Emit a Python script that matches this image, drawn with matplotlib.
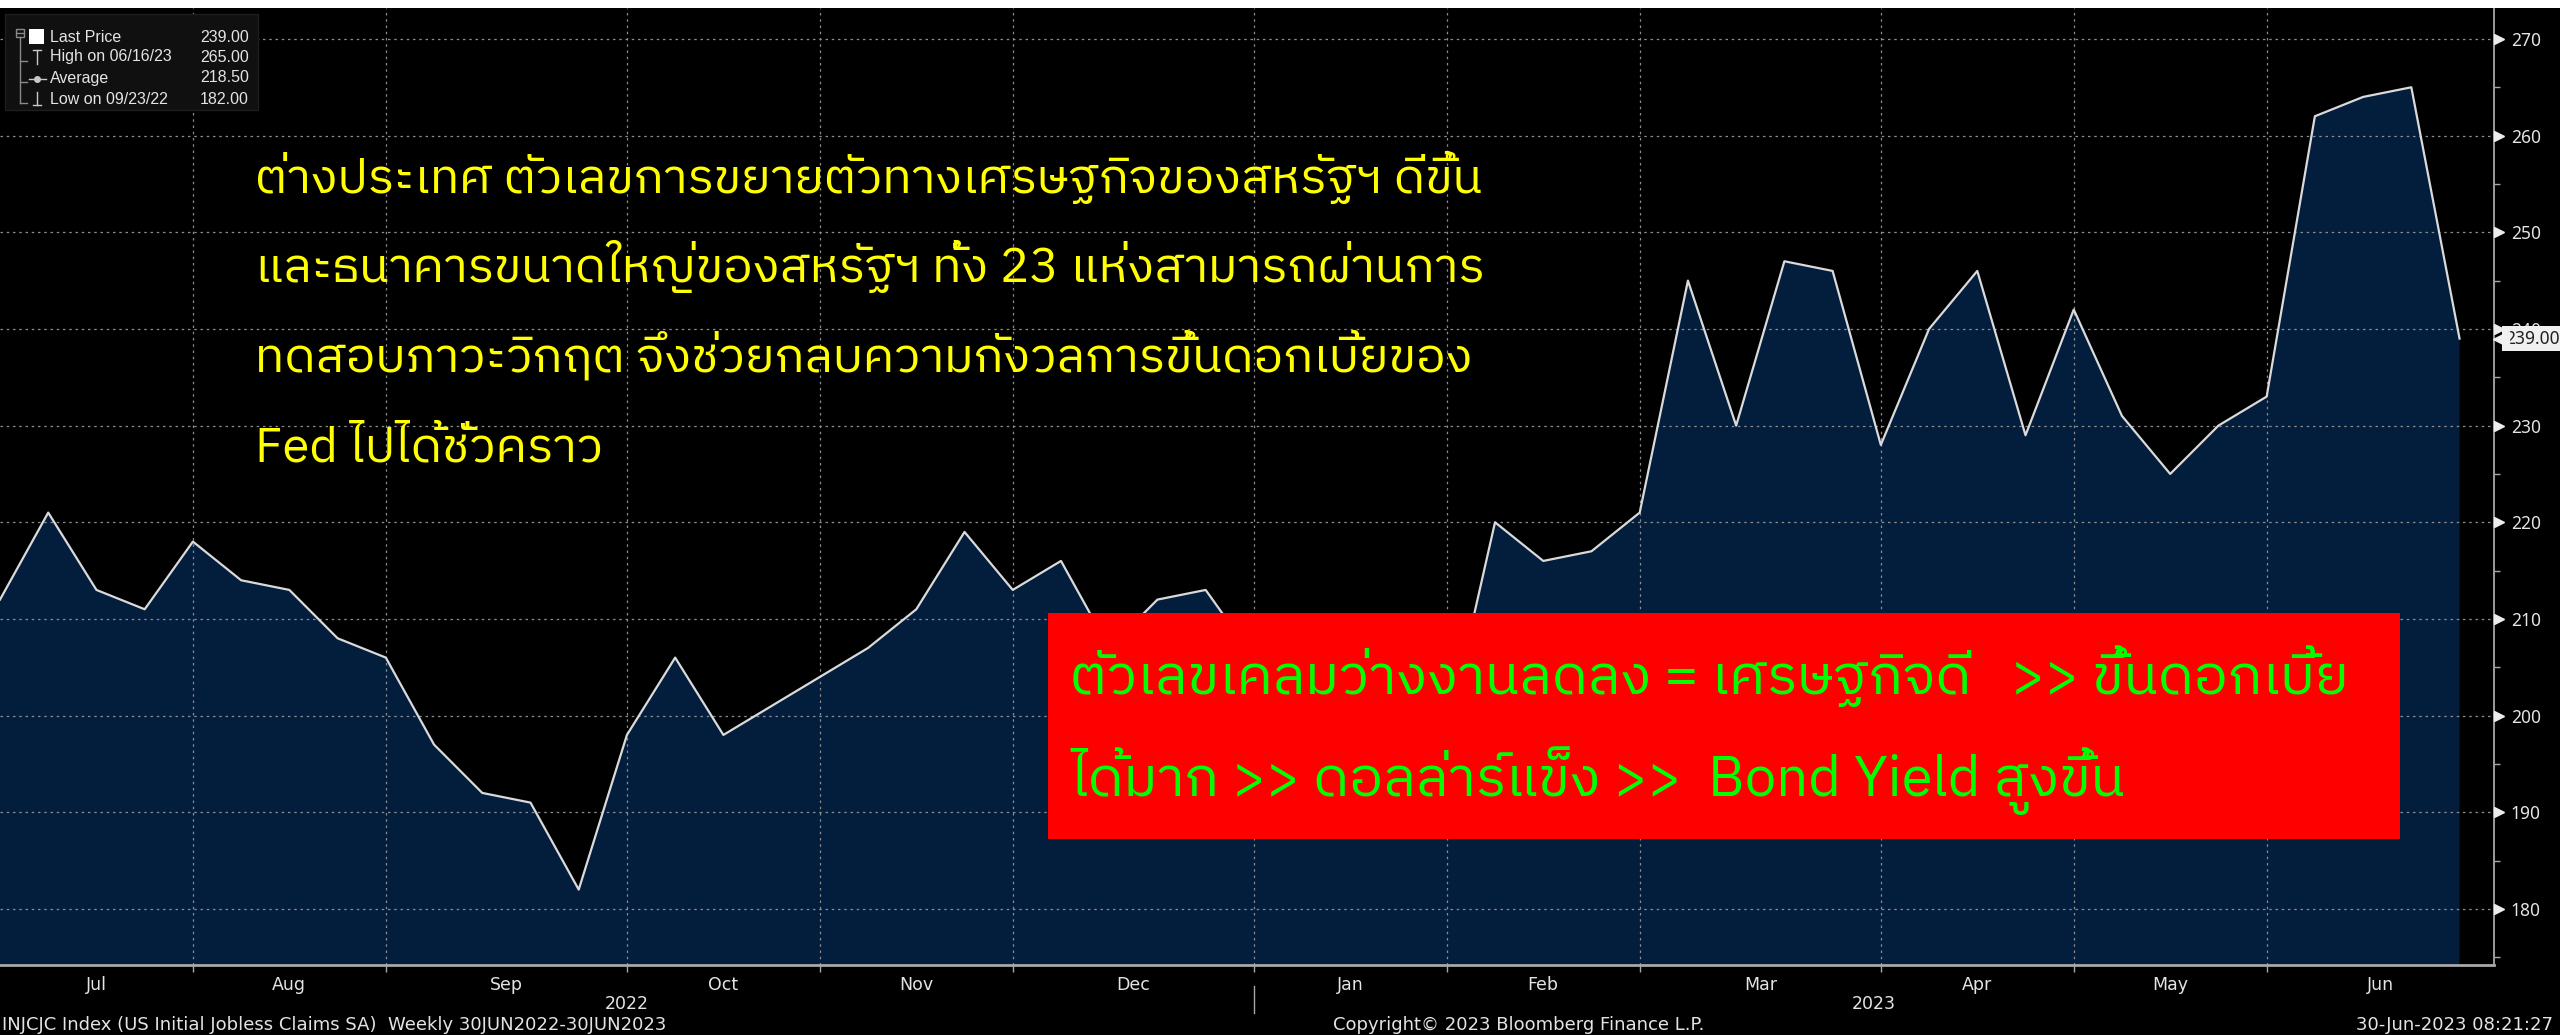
import numpy as np
import pandas as pd
import matplotlib
matplotlib.use("Agg")
import matplotlib.pyplot as plt
import matplotlib.dates as mdates
import matplotlib.transforms as mtransforms
from matplotlib import font_manager
from matplotlib.ft2font import FT2Font
from matplotlib.lines import Line2D
from matplotlib.patches import Rectangle
from matplotlib.ticker import FixedLocator, MultipleLocator, NullFormatter

W, H = 2560, 1035

# weekly initial jobless claims (thousands), Friday dates as Bloomberg shows them
week_end = pd.date_range("2022-07-01", "2023-06-23", freq="W-FRI")
claims = [212, 221, 213, 211, 218, 214, 213, 208, 206, 197,
          192, 191, 182, 198, 206, 198, 201, 204, 207, 211,
          219, 213, 216, 207, 212, 213, 206, 207, 198, 194,
          198, 220, 216, 217, 221, 245, 230, 247, 246, 228,
          240, 246, 229, 242, 231, 225, 230, 233, 262, 264,
          265, 239]
x_start = pd.Timestamp("2022-07-01")
x_end = pd.Timestamp("2023-06-28")
y_ticks = [180, 190, 200, 210, 220, 230, 240, 250, 260, 270]

note_lines = [
    "ต่างประเทศ ตัวเลขการขยายตัวทางเศรษฐกิจของสหรัฐฯ ดีขึ้น",
    "และธนาคารขนาดใหญ่ของสหรัฐฯ ทั้ง 23 แห่งสามารถผ่านการ",
    "ทดสอบภาวะวิกฤต จึงช่วยกลบความกังวลการขึ้นดอกเบี้ยของ",
    "Fed ไปได้ชั่วคราว",
]
box_lines = [
    "ตัวเลขเคลมว่างงานลดลง = เศรษฐกิจดี   >> ขึ้นดอกเบี้ย",
    "ได้มาก >> ดอลล่าร์แข็ง >>  Bond Yield สูงขึ้น",
]
footer_left = "INJCJC Index (US Initial Jobless Claims SA)  Weekly 30JUN2022-30JUN2023"
footer_mid = "Copyright\u00a9 2023 Bloomberg Finance L.P."
footer_right = "30-Jun-2023 08:21:27"

NAVY = "#031d3d"
GRID = "#8c8c8c"
AXIS = "#a8a8a8"
TXT = "#e4e4e4"


def find_thai_font():
    entries = sorted(font_manager.fontManager.ttflist,
                     key=lambda e: 0 if "thai" in e.name.lower() else 1)
    for e in entries:
        try:
            if FT2Font(e.fname).get_char_index(ord("ก")):
                return e.name
        except Exception:
            continue
    return None


thai = find_thai_font()
thai_family = [thai, "DejaVu Sans"] if thai else ["DejaVu Sans"]
narrow = ["Liberation Sans Narrow", "DejaVu Sans"]
plain = ["Liberation Sans", "DejaVu Sans"]


def px(x, y):
    return x / W, 1 - y / H


fig = plt.figure(figsize=(W / 100, H / 100), dpi=100, facecolor="black")
fig.add_artist(Rectangle((0, 1 - 8 / H), 1, 8 / H, transform=fig.transFigure,
                         fc="white", ec="none"))

ax = fig.add_axes([0, 1 - 965 / H, 2494 / W, (965 - 8) / H])
ax.set_facecolor("black")
ax.set_axisbelow("line")

ax.fill_between(week_end, claims, 150, color=NAVY, lw=0, zorder=1)
ax.plot(week_end, claims, color="#dadada", lw=1.6, zorder=3)

# month boundaries sit on the last Friday of each month
month_end = [d for i, d in enumerate(week_end[:-1]) if week_end[i + 1].month != d.month]
bounds = mdates.date2num([x_start] + month_end + [x_end])
mids = (bounds[:-1] + bounds[1:]) / 2
month_names = [mdates.num2date(m).strftime("%b") for m in mids]

ax.xaxis.set_major_locator(FixedLocator(mdates.date2num(month_end)))
ax.xaxis.set_major_formatter(NullFormatter())
ax.set_xticks(mids, minor=True)
ax.set_xticklabels(month_names, minor=True, family=narrow)
ax.tick_params(axis="x", which="major", length=5, color=AXIS, width=1)
ax.tick_params(axis="x", which="minor", length=0, pad=8, labelsize=12.5, labelcolor=TXT)

year_break = mdates.date2num([d for d in month_end if d.month == 12][0])
x0, x1 = bounds[0], bounds[-1]
for label, mid in [("2022", (x0 + year_break) / 2), ("2023", (year_break + x1) / 2)]:
    ax.annotate(label, xy=(mid, 0), xycoords=("data", "axes fraction"),
                xytext=(0, -39), textcoords="offset pixels", ha="center", va="center",
                fontsize=12.5, color=TXT, family=narrow, annotation_clip=False)
ax.plot([year_break, year_break], [-0.022, -0.05], color=AXIS, lw=1,
        transform=ax.get_xaxis_transform(), clip_on=False)

ax.yaxis.tick_right()
ax.yaxis.set_major_locator(FixedLocator(y_ticks))
ax.yaxis.set_minor_locator(MultipleLocator(5))
ax.tick_params(axis="y", which="major", length=0, pad=12, labelsize=12.5,
               labelcolor=TXT, left=False, right=True)
ax.tick_params(axis="y", which="minor", length=4, color=AXIS, width=1,
               left=False, right=True)
for lab in ax.get_yticklabels():
    lab.set_family(["Noto Sans", "DejaVu Sans"])

ax.grid(axis="both", which="major", color=GRID, lw=0.9, ls=(0, (2, 3)))

for side in ["top", "left"]:
    ax.spines[side].set_visible(False)
for side in ["right", "bottom"]:
    ax.spines[side].set_color(AXIS)
ax.spines["bottom"].set_linewidth(2)
ax.spines["right"].set_linewidth(1.3)

tri = mtransforms.offset_copy(ax.get_yaxis_transform(), fig=fig, x=5, y=0, units="dots")
ax.plot([1.0] * len(y_ticks), y_ticks, ls="none", marker=">", ms=7,
        color="#ececec", transform=tri, clip_on=False, zorder=4)

# last price tag, drawn over the 240 label as on the terminal
last = claims[-1]
tag_tr = mtransforms.offset_copy(ax.get_yaxis_transform(), fig=fig, x=11, y=0, units="dots")
ax.text(1.0, last, f"{last:.2f}", transform=tag_tr, ha="left", va="center",
        fontsize=12.5, color="#202020", family=["Noto Sans", "DejaVu Sans"], zorder=6,
        bbox=dict(boxstyle="square,pad=0.2", fc="#f0f0f0", ec="none"))
ptr_tr = mtransforms.offset_copy(ax.get_yaxis_transform(), fig=fig, x=7, y=0, units="dots")
ax.plot([1.0], [last], ls="none", marker="<", ms=11, color="#f0f0f0",
        transform=ptr_tr, clip_on=False, zorder=6)

ax.set_xlim(x_start, x_end)
ax.set_ylim(174.2, 273.2)

# legend panel, top left
fig.add_artist(Rectangle(px(5, 110), 253 / W, 96 / H, transform=fig.transFigure,
                         fc="#101010", ec="#1e1e1e", lw=1, zorder=5))
hi_i = int(np.argmax(claims))
lo_i = int(np.argmin(claims))
rows = [
    ("Last Price", claims[-1]),
    (f"High on {week_end[hi_i]:%m/%d/%y}", claims[hi_i]),
    ("Average", float(np.mean(claims))),
    (f"Low on {week_end[lo_i]:%m/%d/%y}", claims[lo_i]),
]
row_y = [37, 57, 78, 99]
for (name, val), yy in zip(rows, row_y):
    fig.text(*px(50, yy), name, fontsize=11.5, color=TXT, va="center", zorder=6,
             family=plain)
    fig.text(*px(200, yy), f"{val:.2f}", fontsize=11.5, color=TXT, va="center", zorder=6,
             family=plain)

tree = "#8a8a8a"


def seg(x_a, y_a, x_b, y_b, color=tree, lw=1):
    (fa, ga), (fb, gb) = px(x_a, y_a), px(x_b, y_b)
    fig.add_artist(Line2D([fa, fb], [ga, gb], transform=fig.transFigure,
                          color=color, lw=lw, zorder=6))


fig.add_artist(Rectangle(px(16, 37), 8 / W, 8 / H, transform=fig.transFigure,
                         fc="none", ec=tree, lw=1, zorder=6))
seg(17, 33, 23, 33)
seg(20, 37, 20, 103)
for yy in row_y[1:]:
    seg(20, yy + 4, 27, yy + 4)
fig.add_artist(Rectangle(px(29, 44), 15 / W, 15 / H, transform=fig.transFigure,
                         fc="white", ec="none", zorder=6))
seg(33, 50, 41, 50, "#c8c8c8")
seg(37, 50, 37, 64, "#c8c8c8")
seg(29, 79, 46, 79, "#c8c8c8")
fig.add_artist(Line2D([px(37, 79)[0]], [px(37, 79)[1]], transform=fig.transFigure,
                      marker="o", ms=4, color="#c8c8c8", zorder=6))
seg(37, 92, 37, 105, "#c8c8c8")
seg(33, 105, 41, 105, "#c8c8c8")

# yellow commentary
note_base = [193, 282, 371, 461]
note_txt = [fig.text(*px(255, yy), s, color="#ffff00", fontsize=40, va="baseline",
                     family=thai_family, zorder=6) for s, yy in zip(note_lines, note_base)]

# red call-out box
fig.add_artist(Rectangle(px(1048, 839), (2400 - 1048) / W, (839 - 613) / H,
                         transform=fig.transFigure, fc="#ff0000", ec="none", zorder=5))
box_base = [694, 796]
box_txt = [fig.text(*px(1070, yy), s, color="#00ff00", fontsize=40, va="baseline",
                    family=thai_family, zorder=6) for s, yy in zip(box_lines, box_base)]

fig.text(*px(2, 1025), footer_left, fontsize=13, color=TXT, va="center", family=narrow)
fig.text(*px(1333, 1025), footer_mid, fontsize=13, color=TXT, va="center", family=narrow)
fig.text(*px(2553, 1025), footer_right, fontsize=13, color=TXT, va="center", ha="right",
         family=narrow)

# scale the Thai blocks so their line widths match the original layout
fig.canvas.draw()
renderer = fig.canvas.get_renderer()


def fit(texts, targets):
    have = sum(t.get_window_extent(renderer).width for t in texts[:len(targets)])
    size = texts[0].get_fontsize() * sum(targets) / have
    for t in texts:
        t.set_fontsize(size)


fit(note_txt, [1219, 1231, 1227])
fit(box_txt, [1274, 1058])

fig.savefig("out.png", dpi=100, facecolor="black")
